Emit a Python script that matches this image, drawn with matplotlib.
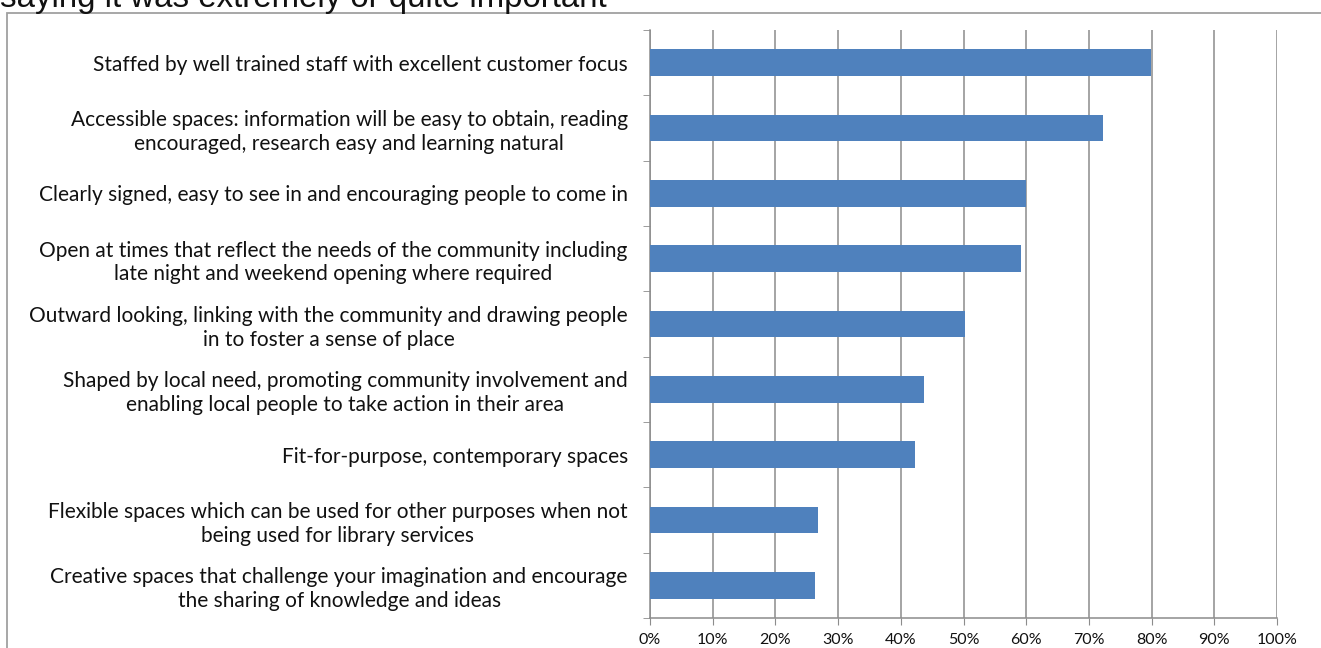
import matplotlib
matplotlib.use("Agg")
import matplotlib.pyplot as plt
import numpy as np
from matplotlib.patches import Rectangle
from matplotlib.ticker import PercentFormatter

# Data, top to bottom as shown
categories = [
    "Staffed by well trained staff with excellent customer focus",
    "Accessible spaces: information will be easy to obtain, reading\nencouraged, research easy and learning natural",
    "Clearly signed, easy to see in and encouraging people to come in",
    "Open at times that reflect the needs of the community including\nlate night and weekend opening where required",
    "Outward looking, linking with the community and drawing people\nin to foster a sense of place",
    "Shaped by local need, promoting community involvement and\nenabling local people to take action in their area",
    "Fit-for-purpose, contemporary spaces",
    "Flexible spaces which can be used for other purposes when not\nbeing used for library services",
    "Creative spaces that challenge your imagination and encourage\nthe sharing of knowledge and ideas",
]
values = [79.9, 72.2, 60.0, 59.2, 50.2, 43.7, 42.3, 26.8, 26.3]
title = "saying it was extremely or quite important"

W, H = 1321, 648
fig = plt.figure(figsize=(W / 100, H / 100), dpi=100)
fig.patch.set_facecolor("white")

# outer frame (only top and left edges visible)
fig.patches.append(Rectangle((7 / W, -0.2), 1.2, 1.2 - 13 / H,
                             transform=fig.transFigure, fill=False,
                             edgecolor="#a0a0a0", linewidth=1.3))

# title, cut off by the top of the image
fig.text(0 / W, 1 - 7 / H, title, fontsize=23.8, family="Liberation Sans",
         va="baseline", ha="left", color="#111111")

ax = fig.add_axes([650 / W, 1 - 618 / H, (1277 - 650) / W, (618 - 30) / H])
y = np.arange(len(categories))[::-1]
ax.barh(y, values, height=0.41, color="#4F81BD", zorder=3)

ax.set_xlim(0, 100)
ax.set_ylim(-0.5, len(categories) - 0.5)
ax.set_xticks(np.arange(0, 101, 10))
ax.xaxis.set_major_formatter(PercentFormatter(decimals=0))
ax.grid(axis="x", color="#8c8c8c", linewidth=1.1, zorder=0)

ax.set_yticks(y)
ax.set_yticklabels(categories, multialignment="center", fontsize=15.0,
                   family="Lato", linespacing=1.22, color="#111111")
ax.set_yticks(np.arange(-0.5, len(categories), 1), minor=True)
ax.tick_params(axis="y", which="major", length=0, pad=16)
ax.tick_params(axis="y", which="minor", length=5, color="#8c8c8c", direction="out")
ax.tick_params(axis="x", length=5, color="#8c8c8c", labelsize=11.5, pad=6)
for lab in ax.get_xticklabels():
    lab.set_family("Lato")
    lab.set_color("#111111")

for s in ["top", "right"]:
    ax.spines[s].set_visible(False)
for s in ["left", "bottom"]:
    ax.spines[s].set_color("#8c8c8c")
    ax.spines[s].set_linewidth(1.1)

fig.savefig("out.png", dpi=100, facecolor="white")
